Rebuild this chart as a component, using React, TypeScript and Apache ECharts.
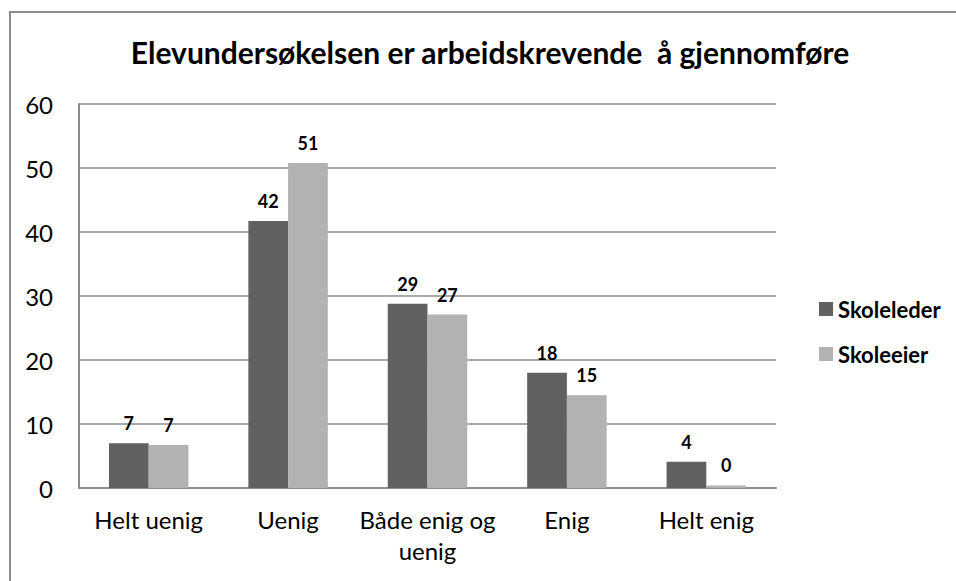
import React, { useEffect, useRef } from "react";
import * as echarts from "echarts";

const categories = ["Helt uenig", "Uenig", "Både enig og\nuenig", "Enig", "Helt enig"];
const skoleleder = [7.0, 41.7, 28.8, 18.0, 4.1];
const skoleeier = [6.7, 50.8, 27.1, 14.5, 0.4];
const seriesNames = ["Skoleleder", "Skoleeier"];
const titleText = "Elevundersøkelsen er arbeidskrevende  å gjennomføre";

const FONT = "Lato, 'Open Sans', sans-serif";

export default function App() {
  const ref = useRef<HTMLDivElement>(null);
  useEffect(() => {
    const chart = echarts.init(ref.current!, null, { renderer: "svg" });
    const label = {
      show: true,
      position: "top" as const,
      distance: 11,
      color: "#000",
      fontFamily: FONT,
      fontWeight: "bold" as const,
      fontSize: 18,
      formatter: (p: any) => String(Math.round(p.value)),
    };
    chart.setOption({
      animation: false,
      backgroundColor: "#fff",
      title: {
        text: titleText,
        left: 485,
        textAlign: "center",
        top: 32,
        textStyle: { fontFamily: FONT, fontWeight: "bold", fontSize: 30, color: "#000" },
      },
      graphic: [
        {
          type: "rect",
          shape: { x: 10, y: 12, width: 960, height: 600 },
          style: { fill: "none", stroke: "#8c8c8c", lineWidth: 2 },
          silent: true,
        },
      ],
      legend: {
        orient: "vertical",
        left: 819,
        top: 298,
        padding: 0,
        itemWidth: 14,
        itemHeight: 14,
        itemGap: 23,
        icon: "rect",
        textStyle: { fontFamily: FONT, fontWeight: "bold", fontSize: 22, color: "#000" },
        data: seriesNames,
      },
      grid: { left: 79, right: 180, top: 104, bottom: 93 },
      xAxis: {
        type: "category",
        data: categories,
        axisLine: { lineStyle: { color: "#8c8c8c", width: 2 } },
        axisTick: { show: false },
        axisLabel: {
          fontFamily: FONT,
          fontSize: 24,
          color: "#000",
          margin: 16,
          lineHeight: 31,
          interval: 0,
        },
      },
      yAxis: {
        type: "value",
        min: 0,
        max: 60,
        interval: 10,
        axisLine: { show: true, lineStyle: { color: "#8c8c8c", width: 2 } },
        axisTick: { show: false },
        splitLine: { lineStyle: { color: "#8c8c8c", width: 1.5 } },
        axisLabel: { fontFamily: FONT, fontSize: 24, color: "#000", margin: 26 },
      },
      series: [
        {
          name: seriesNames[0],
          type: "bar",
          data: skoleleder,
          itemStyle: { color: "#616161" },
          barGap: "0%",
          barCategoryGap: "43%",
          label,
        },
        {
          name: seriesNames[1],
          type: "bar",
          data: skoleeier,
          itemStyle: { color: "#b2b2b2" },
          barGap: "0%",
          barCategoryGap: "43%",
          label,
        },
      ],
    });
    return () => chart.dispose();
  }, []);
  return (
    <div
      ref={ref}
      style={{ position: "fixed", left: 0, top: 0, width: 956, height: 581 }}
    />
  );
}
